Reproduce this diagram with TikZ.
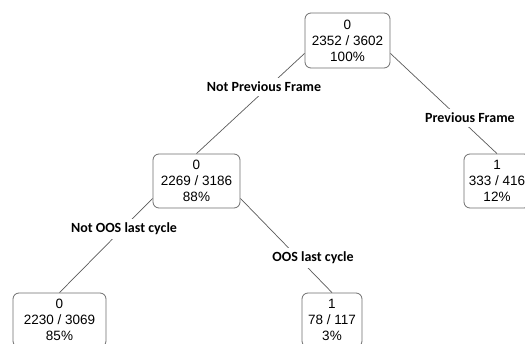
\documentclass[tikz,border=0pt]{standalone}
\usepackage{fontspec}
\setmainfont{Liberation Sans}
\newfontfamily\labelfont{Carlito}
\usepackage{xcolor}
\usepackage{tikz}
\usetikzlibrary{calc}

\definecolor{boxgray}{HTML}{6E6E6E}
\definecolor{edgegray}{HTML}{5A5A5A}

\begin{document}
\begin{tikzpicture}[x=1pt,y=-1pt,
    treenode/.style={draw=boxgray,line width=0.8pt,rounded corners=6pt,fill=white,
        align=center,inner xsep=0pt,minimum height=54pt,
        font=\fontsize{13.5}{16}\selectfont},
    splitlabel/.style={fill=white,inner xsep=1pt,inner ysep=4pt,
        font=\labelfont\bfseries\fontsize{14}{16}\selectfont},
    branch/.style={draw=edgegray,line width=0.7pt}]
\useasboundingbox (0,0) rectangle (525,344);
\clip (0,0) rectangle (525,344);

% Tree nodes
\node[treenode,minimum width=85pt,minimum height=55pt] (root) at (347.5,40.5) {0\\2352 / 3602\\100\%};
\node[treenode,minimum width=87pt] (notprev) at (196.5,181) {0\\2269 / 3186\\88\%};
\node[treenode,minimum width=66pt] (prev) at (497,181) {1\\333 / 416\\12\%};
\node[treenode,minimum width=93pt] (notoos) at (59.5,320) {0\\2230 / 3069\\85\%};
\node[treenode,minimum width=60pt] (oos) at (332,320) {1\\78 / 117\\3\%};

% Branches
\draw[branch] ([yshift=15pt]root.south west) -- (notprev.north);
\draw[branch] ([yshift=15pt]root.south east) -- (prev.north);
\draw[branch] ([yshift=10pt]notprev.south west) -- (notoos.north);
\draw[branch] ([yshift=10pt]notprev.south east) -- (oos.north);

% Split labels
\node[splitlabel] (lnotprev) at (264,87) {Not Previous Frame};
\node[splitlabel] (lprev) at (470,118) {Previous Frame};
\node[splitlabel] (lnotoos) at (124,229) {Not OOS last cycle};
\node[splitlabel] (loos) at (313,258) {OOS last cycle};
\end{tikzpicture}
\end{document}
